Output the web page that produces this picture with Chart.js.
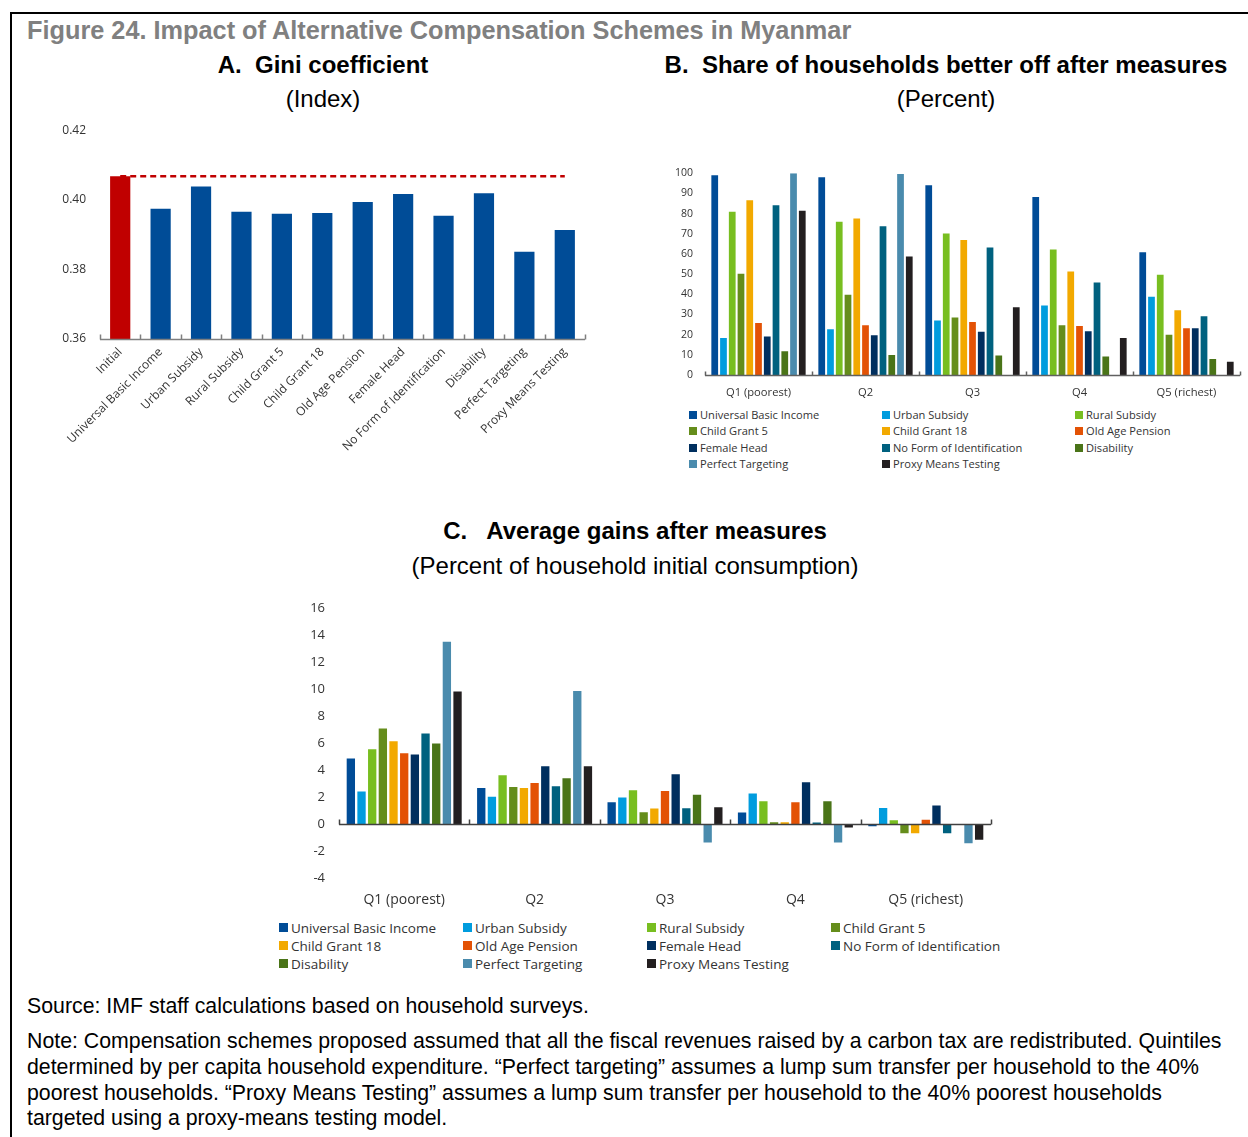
<!DOCTYPE html>
<html><head><meta charset="utf-8">
<script src="https://cdn.jsdelivr.net/npm/chart.js@4.4.0/dist/chart.umd.min.js"></script>
<style>
html,body{margin:0;padding:0;background:#fff;}
body{width:1248px;height:1137px;position:relative;overflow:hidden;font-family:"Liberation Sans",Arial,sans-serif;color:#000;}
.fr{position:absolute;background:#000;}
.t{position:absolute;white-space:nowrap;}
.c{text-align:center;}
canvas{position:absolute;display:block;}
.lg{position:absolute;font-family:"Open Sans",sans-serif;color:#333;white-space:nowrap;}
.lg span.sq{display:inline-block;vertical-align:middle;}
</style>
</head><body>
<div class="fr" style="left:10px;top:12px;width:1238px;height:2px;"></div>
<div class="fr" style="left:10px;top:12px;width:2px;height:1125px;"></div>

<div class="t" style="left:27px;top:17px;font-size:25.3px;line-height:26px;font-weight:bold;color:#808080;">Figure 24. Impact of Alternative Compensation Schemes in Myanmar</div>

<div class="t c" style="left:123px;width:400px;top:53px;font-size:24px;line-height:24px;font-weight:bold;">A.&nbsp; Gini coefficient</div>
<div class="t c" style="left:123px;width:400px;top:87px;font-size:24px;line-height:24px;">(Index)</div>

<div class="t c" style="left:646px;width:600px;top:53px;font-size:24px;line-height:24px;font-weight:bold;">B.&nbsp; Share of households better off after measures</div>
<div class="t c" style="left:646px;width:600px;top:87px;font-size:24px;line-height:24px;">(Percent)</div>

<div class="t c" style="left:335px;width:600px;top:519px;font-size:24px;line-height:24px;font-weight:bold;">C.&nbsp;&nbsp; Average gains after measures</div>
<div class="t c" style="left:335px;width:600px;top:554px;font-size:24px;line-height:24px;">(Percent of household initial consumption)</div>

<canvas id="chartA" width="545" height="361" style="left:50px;top:109px;"></canvas>
<canvas id="chartB" width="588" height="250" style="left:660px;top:155px;"></canvas>
<canvas id="chartC" width="720" height="329" style="left:290px;top:586px;"></canvas>

<div id="legendB"></div>
<div id="legendC"></div>

<div class="t" style="left:27px;top:995px;font-size:21.3px;line-height:22px;">Source: IMF staff calculations based on household surveys.</div>
<div class="t" style="left:27px;top:1029px;font-size:21.3px;line-height:25.8px;">Note: Compensation schemes proposed assumed that all the fiscal revenues raised by a carbon tax are redistributed. Quintiles<br>determined by per capita household expenditure. “Perfect targeting” assumes a lump sum transfer per household to the 40%<br>poorest households. “Proxy Means Testing” assumes a lump sum transfer per household to the 40% poorest households<br>targeted using a proxy-means testing model.</div>

<script>
// ---------- DATA ----------
const giniCategories = ['Initial','Universal Basic Income','Urban Subsidy','Rural Subsidy','Child Grant 5','Child Grant 18','Old Age Pension','Female Head','No Form of Identification','Disability','Perfect Targeting','Proxy Means Testing'];
const giniValues = [0.4068,0.3974,0.4038,0.3966,0.3960,0.3962,0.3994,0.4017,0.3954,0.4019,0.3851,0.3913];
const giniTickMin = 0.36, giniTickMax = 0.42, giniTickStep = 0.02;

const quintiles = ['Q1 (poorest)','Q2','Q3','Q4','Q5 (richest)'];
const schemes = ['Universal Basic Income','Urban Subsidy','Rural Subsidy','Child Grant 5','Child Grant 18','Old Age Pension','Female Head','No Form of Identification','Disability','Perfect Targeting','Proxy Means Testing'];

// Panel B: share of households better off (percent), Q1..Q5
const shareUBI        = [99.0, 98.0, 94.1, 88.2, 60.9];
const shareUrban      = [18.3, 22.7, 27.0, 34.5, 38.8];
const shareRural      = [80.9, 76.0, 70.1, 62.2, 49.7];
const shareCG5        = [50.2, 39.8, 28.5, 24.7, 19.9];
const shareCG18       = [86.7, 77.6, 66.9, 51.3, 32.1];
const shareOAP        = [25.8, 24.7, 26.3, 24.3, 23.2];
const shareFemale     = [19.1, 19.7, 21.4, 21.7, 23.2];
const shareNoID       = [84.2, 73.7, 63.2, 45.9, 29.1];
const shareDisability = [11.8,  9.9,  9.7,  9.2,  7.9];
const sharePerfect    = [100.0, 99.7, 0, 0, 0];
const sharePMT        = [81.4, 58.7, 33.6, 18.4,  6.6];
const shareTickMin = 0, shareTickMax = 100, shareTickStep = 10;

// Panel C: average gains (percent of initial consumption), Q1..Q5
const gainUBI        = [4.84, 2.67, 1.60, 0.84, -0.17];
const gainUrban      = [2.40, 2.02, 1.95, 2.25,  1.19];
const gainRural      = [5.53, 3.60, 2.49, 1.68,  0.27];
const gainCG5        = [7.06, 2.74, 0.86, 0.12, -0.69];
const gainCG18       = [6.12, 2.67, 1.14, 0.12, -0.69];
const gainOAP        = [5.23, 3.04, 2.44, 1.60,  0.32];
const gainFemale     = [5.14, 4.27, 3.68, 3.09,  1.36];
const gainNoID       = [6.69, 2.79, 1.16, 0.10, -0.69];
const gainDisability = [5.95, 3.38, 2.17, 1.68,  0.00];
const gainPerfect    = [13.48, 9.85, -1.38, -1.38, -1.43];
const gainPMT        = [9.80, 4.27, 1.23, -0.27, -1.16];
const gainTickMin = -4, gainTickMax = 16, gainTickStep = 2;

// ---------- STYLE ----------
const schemeColors = ['#004C97','#009CDE','#78BE20','#658D1B','#F2A900','#E35205','#002F5F','#00617F','#4A7418','#4A8BAD','#231F20'];
const shareSeries = [shareUBI,shareUrban,shareRural,shareCG5,shareCG18,shareOAP,shareFemale,shareNoID,shareDisability,sharePerfect,sharePMT];
const gainSeries  = [gainUBI,gainUrban,gainRural,gainCG5,gainCG18,gainOAP,gainFemale,gainNoID,gainDisability,gainPerfect,gainPMT];

Chart.defaults.font.family = '"Open Sans", sans-serif';
Chart.defaults.color = '#333';
Chart.defaults.animation = false;

const axisLine = {
  id: 'axisLine',
  afterDatasetsDraw(chart, args, opts) {
    const xs = chart.scales.x, ys = chart.scales.y, ctx = chart.ctx;
    const yy = Math.round(ys.getPixelForValue(opts.value)) + 0.5;
    const n = xs.ticks.length;
    ctx.save();
    ctx.strokeStyle = opts.color; ctx.lineWidth = opts.width;
    ctx.beginPath();
    ctx.moveTo(xs.left, yy); ctx.lineTo(xs.right, yy);
    for (let i = 0; i <= n; i++) {
      const px = Math.round(xs.left + (xs.right - xs.left) * i / n) + 0.5;
      ctx.moveTo(px, yy); ctx.lineTo(px, yy - opts.tick);
    }
    ctx.stroke(); ctx.restore();
  }
};

function yAxis(min, max, step, w, pad, size, fmt) {
  return {
    min: min, max: max,
    afterFit: s => { s.width = w; },
    border: {display: false},
    grid: {display: false, drawTicks: false},
    ticks: {stepSize: step, padding: pad, font: {size: size}, color: '#333',
            callback: v => fmt(v)}
  };
}

// ---------- PANEL A ----------
new Chart(document.getElementById('chartA'), {
  type: 'bar',
  data: {
    labels: giniCategories,
    datasets: [
      {type: 'line', data: giniCategories.map(() => giniValues[0]), borderColor: '#C00000',
       borderWidth: 2.5, borderDash: [6, 4], pointRadius: 0, fill: false, order: 0},
      {type: 'bar', data: giniValues, base: giniTickMin,
       backgroundColor: giniValues.map((v, i) => i === 0 ? '#C00000' : '#004C97'),
       barPercentage: 0.5, categoryPercentage: 1.0, order: 1}
    ]
  },
  options: {
    responsive: false, devicePixelRatio: 1,
    layout: {padding: {top: 9, right: 10, left: 0, bottom: 0}},
    plugins: {legend: {display: false}, tooltip: {enabled: false},
      axisLine: {value: giniTickMin, color: '#7f7f7f', width: 1.5, tick: 5}},
    scales: {
      x: {
        afterFit: s => { s.height = 131; },
        border: {display: false},
        grid: {display: false, drawTicks: false},
        ticks: {autoSkip: false, maxRotation: 45, minRotation: 45, padding: 6,
                font: {size: 12}, color: '#333'}
      },
      y: yAxis(giniTickMin, giniTickMax, giniTickStep, 50, 14, 12, v => v.toFixed(2))
    }
  },
  plugins: [axisLine]
});

// ---------- PANEL B ----------
new Chart(document.getElementById('chartB'), {
  type: 'bar',
  data: {
    labels: quintiles,
    datasets: schemes.map((s, i) => ({label: s, data: shareSeries[i], backgroundColor: schemeColors[i],
      barPercentage: 0.77, categoryPercentage: 0.9}))
  },
  options: {
    responsive: false, devicePixelRatio: 1,
    layout: {padding: {top: 12, right: 8, left: 0, bottom: 0}},
    plugins: {legend: {display: false}, tooltip: {enabled: false},
      axisLine: {value: 0, color: '#606060', width: 1.5, tick: 4}},
    scales: {
      x: {
        afterFit: s => { s.height = 30; },
        border: {display: false},
        grid: {display: false, drawTicks: false},
        ticks: {padding: 11, font: {size: 11.2}, color: '#333'}
      },
      y: yAxis(shareTickMin, shareTickMax, shareTickStep, 45, 12, 10.5, v => String(v))
    }
  },
  plugins: [axisLine]
});

// ---------- PANEL C ----------
new Chart(document.getElementById('chartC'), {
  type: 'bar',
  data: {
    labels: quintiles,
    datasets: schemes.map((s, i) => ({label: s, data: gainSeries[i], backgroundColor: schemeColors[i],
      barPercentage: 0.78, categoryPercentage: 0.9}))
  },
  options: {
    responsive: false, devicePixelRatio: 1,
    layout: {padding: {top: 12, right: 19, left: 0, bottom: 0}},
    plugins: {legend: {display: false}, tooltip: {enabled: false},
      axisLine: {value: 0, color: '#404040', width: 1.5, tick: 5}},
    scales: {
      x: {
        afterFit: s => { s.height = 37; },
        border: {display: false},
        grid: {display: false, drawTicks: false},
        ticks: {padding: 14, font: {size: 14}, color: '#333'}
      },
      y: yAxis(gainTickMin, gainTickMax, gainTickStep, 49, 14, 13, v => String(v))
    }
  },
  plugins: [axisLine]
});

// ---------- HTML LEGENDS ----------
function buildLegend(id, cols, colX, rowY, sq, fs, gap) {
  const host = document.getElementById(id);
  schemes.forEach((s, i) => {
    const r = Math.floor(i / cols), c = i % cols;
    const d = document.createElement('div');
    d.className = 'lg';
    d.style.left = colX[c] + 'px';
    d.style.top = (rowY[r] - fs * 0.7) + 'px';
    d.style.fontSize = fs + 'px';
    d.style.lineHeight = (fs * 1.4) + 'px';
    d.innerHTML = '<span class="sq" style="width:' + sq + 'px;height:' + sq + 'px;background:' + schemeColors[i] +
      ';margin-right:' + gap + 'px;position:relative;top:-1px;"></span>' + s;
    host.appendChild(d);
  });
}
buildLegend('legendB', 3, [689, 882, 1075], [415, 431, 448, 464], 8, 11.1, 3);
buildLegend('legendC', 4, [279, 463, 647, 831], [928, 946, 964], 9, 13.5, 3);
</script>
</body></html>
